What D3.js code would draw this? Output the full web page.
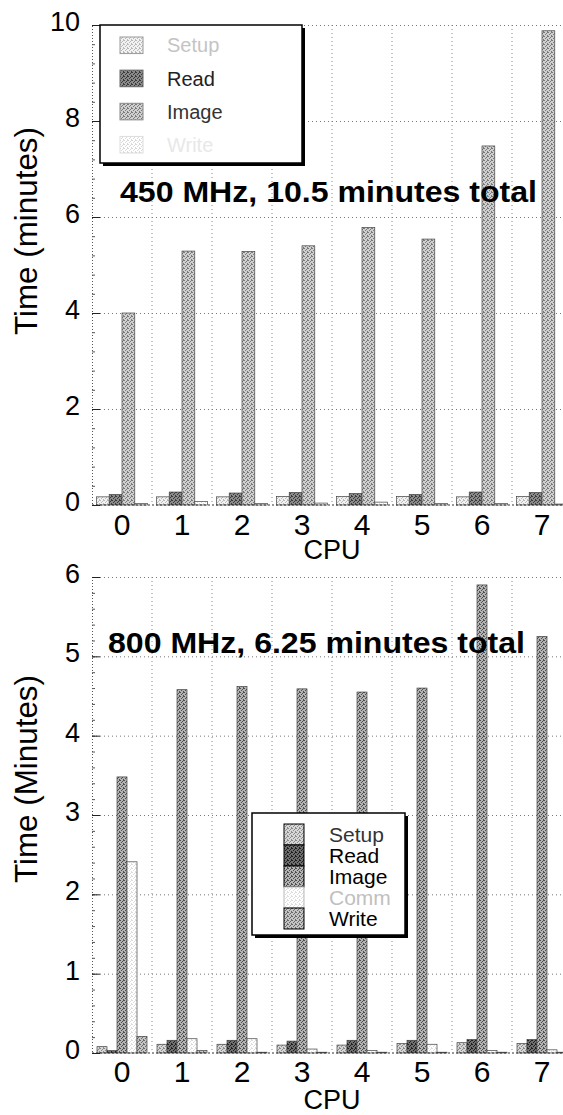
<!DOCTYPE html>
<html>
<head>
<meta charset="utf-8">
<script src="https://cdn.jsdelivr.net/npm/d3@7/dist/d3.min.js"></script>
<style>
body{margin:0;background:#fff;overflow:hidden;}
svg{display:block;}
text{font-family:"Liberation Sans",Arial,Helvetica,sans-serif;}
</style>
</head>
<body>
<svg id="chart" width="563" height="1115"></svg>
<script>
"use strict";

//********************************* DATA *********************************
var cpus = ["0","1","2","3","4","5","6","7"];

// 450 MHz run (top panel)
var topSeries = ["Setup","Read","Image","Write"];
var topSetup = [0.17,0.17,0.17,0.18,0.18,0.18,0.17,0.18];
var topRead  = [0.22,0.27,0.25,0.26,0.24,0.22,0.27,0.26];
var topImage = [4.0,5.29,5.28,5.4,5.78,5.54,7.48,9.88];
var topWrite = [0.03,0.07,0.03,0.04,0.06,0.03,0.03,0.02];
var topTicks = [0,2,4,6,8,10];

// 800 MHz run (bottom panel)
var botSeries = ["Setup","Read","Image","Comm","Write"];
var botSetup = [0.08,0.11,0.11,0.1,0.1,0.12,0.13,0.12];
var botRead  = [0.03,0.16,0.16,0.15,0.16,0.16,0.17,0.17];
var botImage = [3.48,4.58,4.62,4.59,4.55,4.6,5.9,5.25];
var botComm  = [2.41,0.18,0.18,0.05,0.03,0.11,0.03,0.04];
var botWrite = [0.21,0.03,0.01,0.01,0.01,0.01,0.01,0.01];
var botTicks = [0,1,2,3,4,5,6];

var svg = d3.select("#chart");
var defs = svg.append("defs");

//stippled fills, looks like the scanned halftone
function addPattern(id, bg, fg){
	var p = defs.append("pattern").attr("id", id)
		.attr("width", 4).attr("height", 4)
		.attr("patternUnits", "userSpaceOnUse");
	p.append("rect").attr("width", 4).attr("height", 4).attr("fill", bg);
	[[0,0],[2,1],[1,2],[3,3],[3,0]].forEach(function(d){
		p.append("rect").attr("x", d[0]).attr("y", d[1]).attr("width", 1).attr("height", 1).attr("fill", fg);
	});
}
addPattern("tSetup", "#f2f2f2", "#b8b8b8");
addPattern("tRead", "#8a8a8a", "#3a3a3a");
addPattern("tImage", "#cfcfcf", "#7a7a7a");
addPattern("tWrite", "#ffffff", "#d8d8d8");
addPattern("bSetup", "#d6d6d6", "#8a8a8a");
addPattern("bRead", "#6e6e6e", "#1e1e1e");
addPattern("bImage", "#b4b4b4", "#4e4e4e");
addPattern("bComm", "#ffffff", "#dcdcdc");
addPattern("bWrite", "#c4c4c4", "#6a6a6a");

var left = 92, right = 572;

function drawPanel(o){
	var g = svg.append("g");
	var x = d3.scaleBand().domain(cpus).range([left, right]).padding(0);
	var inner = d3.scaleBand().domain(o.series).range([0, x.bandwidth()])
		.paddingInner(0).paddingOuter(o.outer);
	var y = d3.scaleLinear().domain([0, o.max]).range([o.y0, o.y1]);

	//horizontal dotted grid
	g.append("g").attr("transform", "translate(" + left + ",0)")
		.call(d3.axisLeft(y).tickValues(o.ticks.slice(1)).tickSize(-(563 - left)).tickFormat(""))
		.call(function(s){ s.select(".domain").remove(); })
		.selectAll("line").attr("stroke", "#777").attr("stroke-dasharray", "1,3");

	//vertical dotted grid at group borders
	g.append("g").selectAll("line").data(cpus).enter().append("line")
		.attr("x1", function(d){ return x(d) + x.bandwidth(); })
		.attr("x2", function(d){ return x(d) + x.bandwidth(); })
		.attr("y1", y(o.max)).attr("y2", y(0))
		.attr("stroke", "#888").attr("stroke-dasharray", "1,3");

	//bars
	o.series.forEach(function(s, k){
		g.append("g").selectAll("rect").data(o.values[k]).enter().append("rect")
			.attr("x", function(d, i){ return x(cpus[i]) + inner(s); })
			.attr("width", inner.bandwidth())
			.attr("y", function(d){ return y(d); })
			.attr("height", function(d){ return y(0) - y(d); })
			.attr("fill", "url(#" + o.fills[k] + ")")
			.attr("stroke", "#444").attr("stroke-width", 0.7);
	});

	//baseline
	g.append("line").attr("x1", left).attr("x2", 563)
		.attr("y1", y(0)).attr("y2", y(0))
		.attr("stroke", "#333").attr("stroke-dasharray", "2,2");

	//minor ticks
	var minor = d3.range(0, o.max + 1e-9, o.step / 5);
	g.append("g").attr("transform", "translate(" + left + ",0)")
		.call(d3.axisLeft(y).tickValues(minor).tickSize(-3).tickFormat(""))
		.call(function(s){ s.select(".domain").remove(); })
		.selectAll("line").attr("stroke", "#555");

	//major ticks + labels
	var ax = g.append("g").attr("transform", "translate(" + left + ",0)")
		.call(d3.axisLeft(y).tickValues(o.ticks).tickSize(-8).tickPadding(12).tickFormat(d3.format("d")));
	ax.select(".domain").attr("stroke", "#555").attr("stroke-dasharray", "1,2");
	ax.selectAll("line").attr("stroke", "#222");
	ax.selectAll("text").attr("font-size", 27).attr("fill", "#000").attr("dy", "0.2em")
		.style("font-family", '"Liberation Sans",Arial,sans-serif');

	//CPU labels
	var bx = g.append("g").attr("transform", "translate(0," + y(0) + ")")
		.call(d3.axisBottom(x).tickSize(0));
	bx.select(".domain").remove();
	bx.selectAll("text").attr("font-size", 30).attr("fill", "#000")
		.attr("y", o.tickLab).attr("dy", 0)
		.style("font-family", '"Liberation Sans",Arial,sans-serif');

	g.append("text").attr("x", x("3") + x.bandwidth()).attr("y", y(0) + o.cpuLab)
		.attr("text-anchor", "middle").attr("font-size", 27).text("CPU");

	g.append("text")
		.attr("transform", "translate(37," + o.yLabY + ") rotate(-90)")
		.attr("text-anchor", "middle").attr("font-size", 31)
		.attr("textLength", 208).attr("lengthAdjust", "spacingAndGlyphs")
		.text(o.yLabel);

	g.append("text").attr("x", o.titleX).attr("y", o.titleY)
		.attr("font-size", 30).attr("font-weight", "bold")
		.attr("textLength", 417).attr("lengthAdjust", "spacingAndGlyphs")
		.text(o.title);

	//legend with drop shadow
	var L = o.legend;
	var lg = svg.append("g");
	lg.append("rect").attr("x", L.x + 3).attr("y", L.y + 3).attr("width", L.w).attr("height", L.h).attr("fill", "#000");
	lg.append("rect").attr("x", L.x).attr("y", L.y).attr("width", L.w).attr("height", L.h)
		.attr("fill", "#fff").attr("stroke", "#000").attr("stroke-width", 1.5);
	var ly = d3.scaleBand().domain(o.series).range([L.r0, L.r1]).paddingInner(L.pad);
	lg.selectAll(".sw").data(o.series).enter().append("rect")
		.attr("x", L.sx).attr("width", L.sw)
		.attr("y", function(d){ return ly(d); }).attr("height", ly.bandwidth())
		.attr("fill", function(d, k){ return "url(#" + o.fills[k] + ")"; })
		.attr("stroke", function(d, k){ return L.swStroke[k]; }).attr("stroke-width", 1);
	lg.selectAll(".lt").data(o.series).enter().append("text")
		.attr("x", L.tx).attr("y", function(d){ return ly(d) + ly.bandwidth() / 2 + L.fs * 0.36; })
		.attr("font-size", L.fs)
		.attr("fill", function(d, k){ return L.colors[k]; })
		.text(function(d){ return d; });
}

drawPanel({
	series: topSeries,
	values: [topSetup, topRead, topImage, topWrite],
	fills: ["tSetup","tRead","tImage","tWrite"],
	outer: 0.35,
	max: 10, step: 2, ticks: topTicks,
	y0: 505, y1: 25,
	tickLab: 30, cpuLab: 54,
	yLabel: "Time (minutes)", yLabY: 231,
	title: "450 MHz, 10.5 minutes total", titleX: 120, titleY: 202,
	legend: {x: 100, y: 25, w: 202, h: 138, r0: 37, r1: 153, pad: 0.5, sx: 120, sw: 23, tx: 167, fs: 20,
		swStroke: ["#999","#666","#888","#ddd"],
		colors: ["#c4c4c4","#222","#333","#e8e8e8"]}
});

drawPanel({
	series: botSeries,
	values: [botSetup, botRead, botImage, botComm, botWrite],
	fills: ["bSetup","bRead","bImage","bComm","bWrite"],
	outer: 0.5,
	max: 6, step: 1, ticks: botTicks,
	y0: 1053, y1: 577,
	tickLab: 29, cpuLab: 56,
	yLabel: "Time (Minutes)", yLabY: 779,
	title: "800 MHz, 6.25 minutes total", titleX: 108, titleY: 653,
	legend: {x: 252, y: 813, w: 153, h: 122, r0: 824, r1: 929, pad: 0, sx: 284, sw: 20, tx: 329, fs: 21,
		swStroke: ["#000","#000","#000","#bbb","#000"],
		colors: ["#333","#000","#000","#c0c0c0","#000"]}
});
</script>
</body>
</html>
